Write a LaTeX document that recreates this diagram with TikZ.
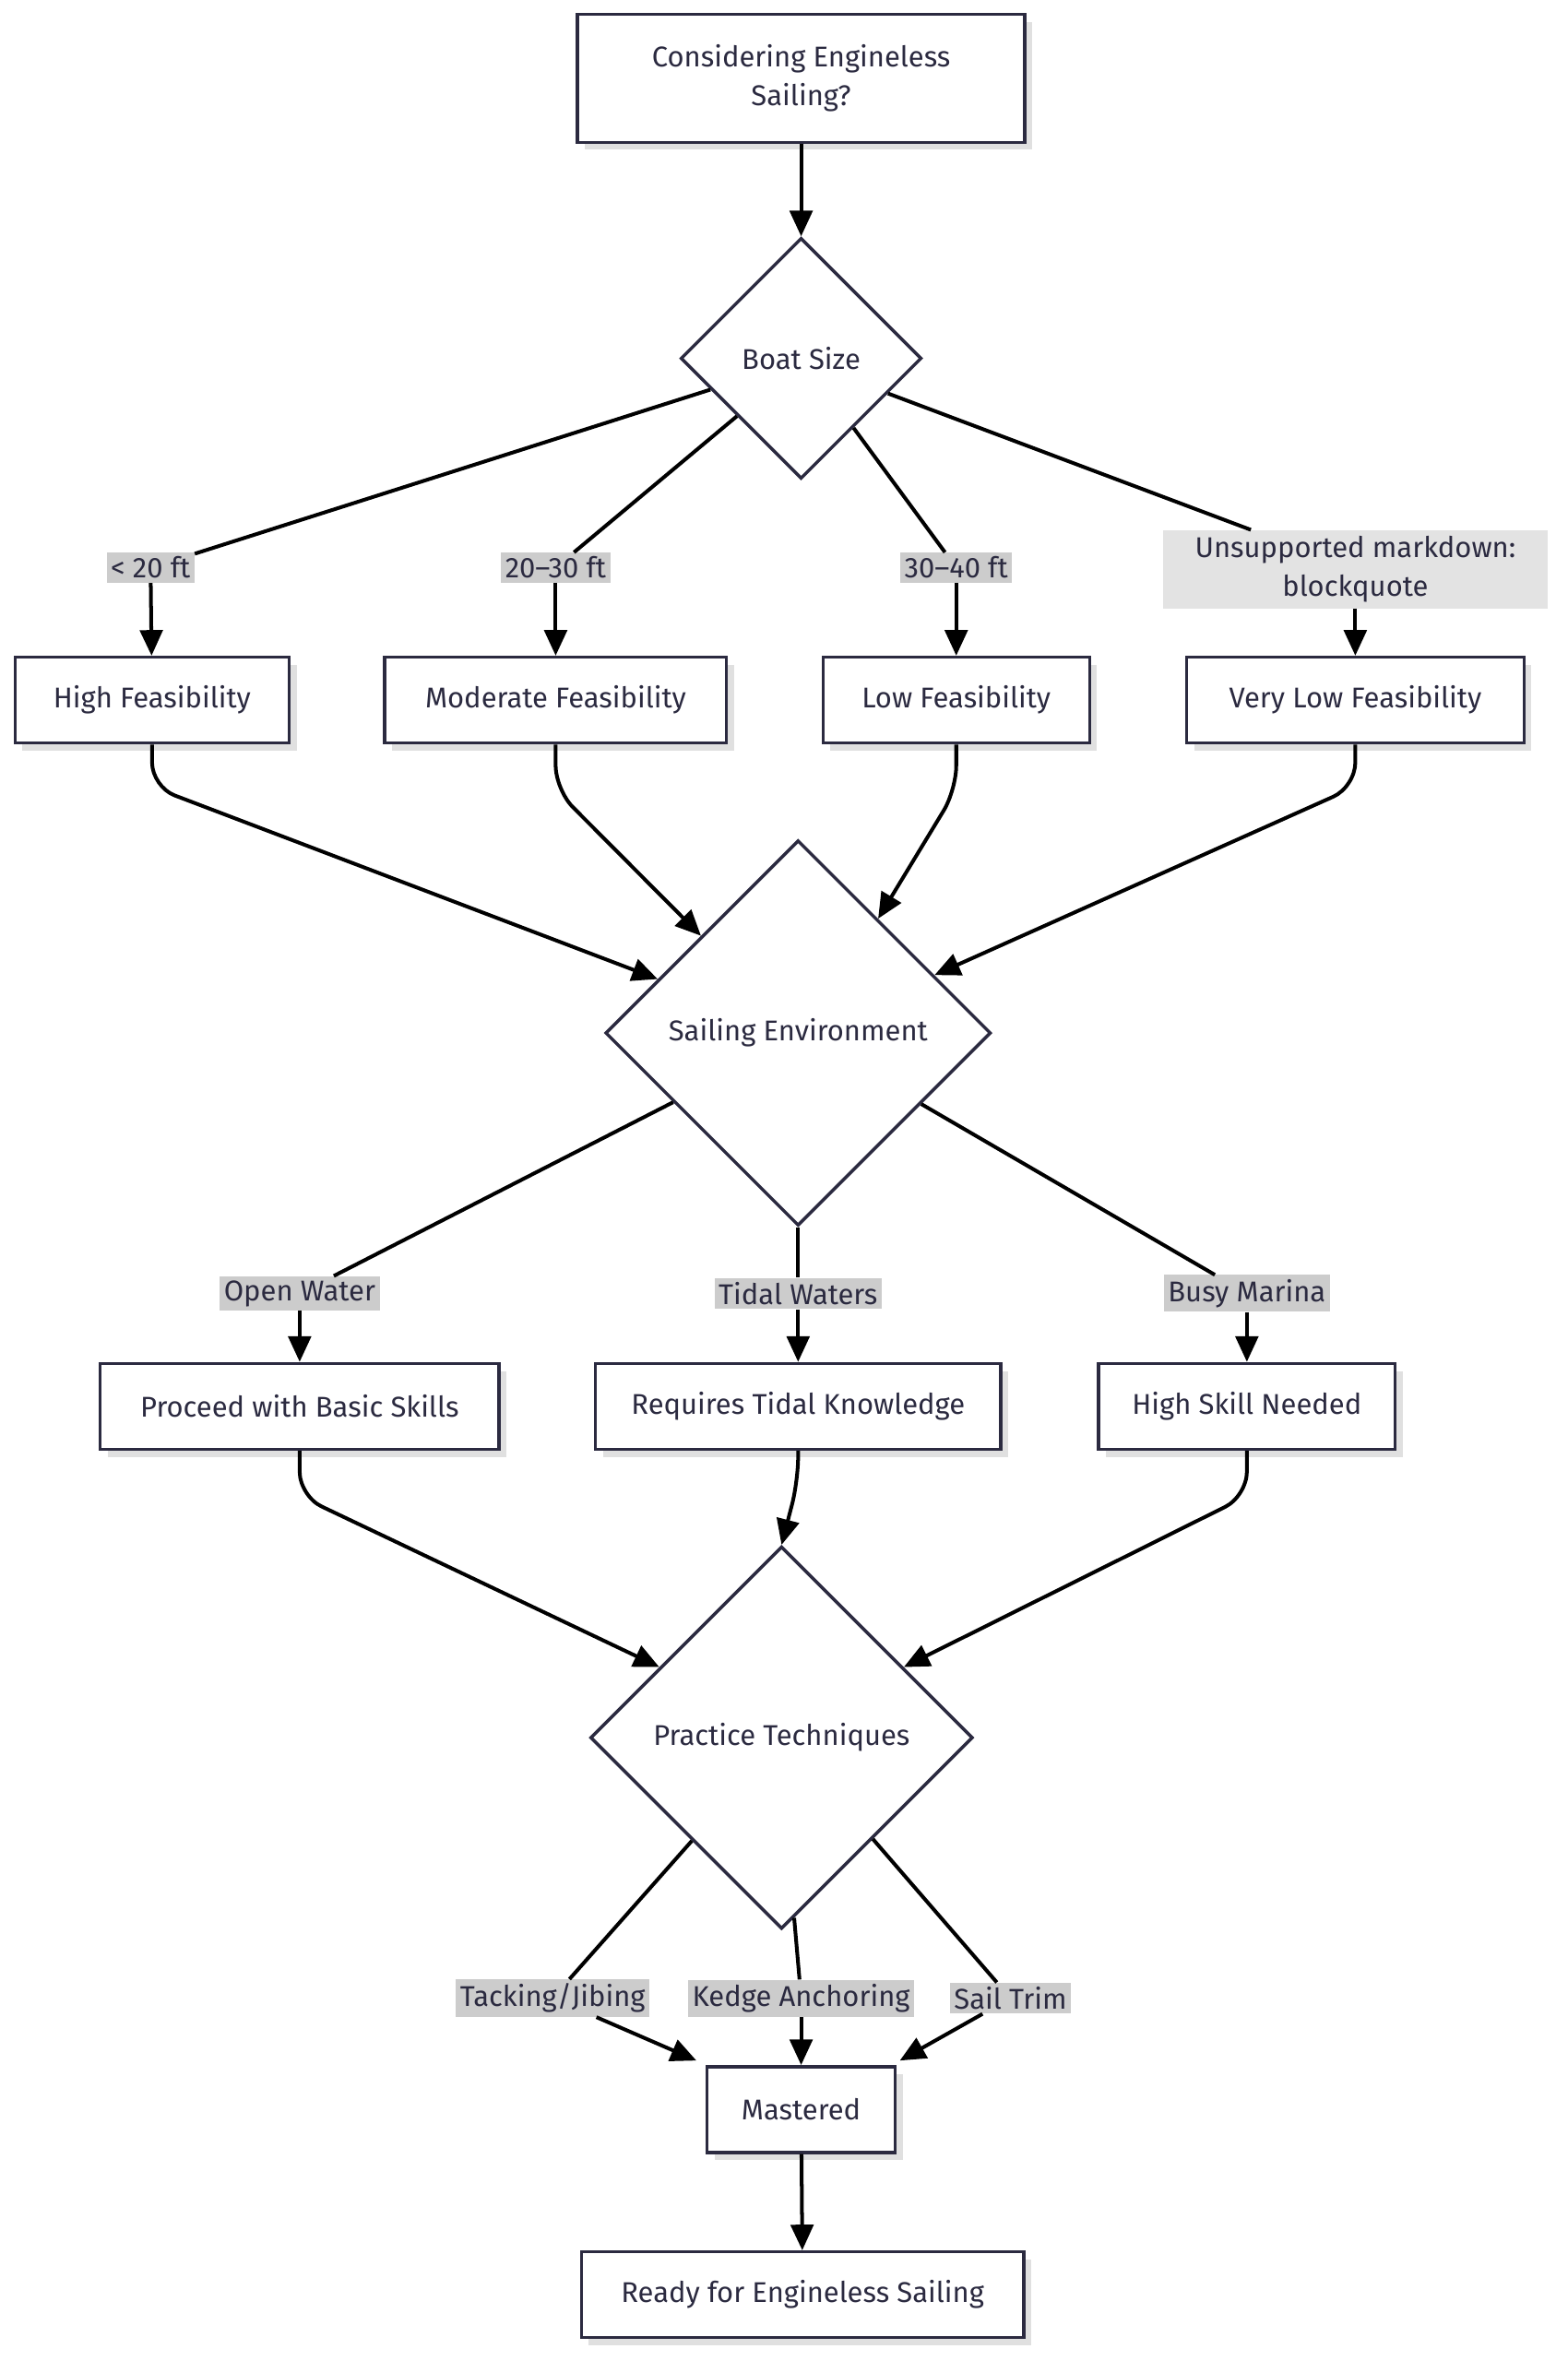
\documentclass[tikz,border=0pt]{standalone}
\usepackage{fontspec}
\setmainfont{Fira Sans}
\usetikzlibrary{shapes.geometric,arrows.meta,shadows}
\definecolor{edge}{HTML}{2B2A40}
\definecolor{lbl}{HTML}{CCCCCC}
\tikzset{
  box/.style={draw=edge, line width=3pt, fill=white, minimum height=2.85cm, inner xsep=0.9cm,
    drop shadow={shadow xshift=0.25cm, shadow yshift=-0.25cm, fill=black!12, opacity=1}},
  dec/.style={diamond, draw=edge, line width=3pt, fill=white, aspect=1, inner sep=0pt},
  tag/.style={fill=lbl, inner sep=4pt, text=edge},
  ln/.style={line width=3.5pt, black, rounded corners=0.8cm},
  arr/.style={ln, -{Triangle[length=0.85cm,width=0.75cm]}}
}
\begin{document}
\begin{tikzpicture}[x=0.05cm,y=-0.05cm, font=\fontsize{27}{37}\selectfont, text=edge]
\useasboundingbox (0,0) rectangle (1041,1568);

% nodes
\node[box, minimum width=14.85cm, minimum height=4.25cm, align=center] (start) at (532,52) {Considering Engineless\\Sailing?};
\node[dec, minimum size=8cm] (boat) at (532,238) {Boat Size};

\node[tag] (l1) at (100,377) {< 20 ft};
\node[tag] (l2) at (369,377) {20–30 ft};
\node[tag] (l3) at (635,377) {30–40 ft};
\node[tag, fill=black!11, minimum width=12.75cm, minimum height=2.6cm, align=center] (l4) at (900,378) {Unsupported markdown:\\blockquote};

\node[box, minimum width=9.1cm] (hf) at (101,465) {High Feasibility};
\node[box, minimum width=11.35cm] (mf) at (369,465) {Moderate Feasibility};
\node[box, minimum width=8.85cm] (lf) at (635,465) {Low Feasibility};
\node[box, minimum width=11.2cm] (vf) at (900,465) {Very Low Feasibility};

\node[dec, minimum size=12.8cm] (env) at (530,686) {Sailing Environment};

\node[tag] (e1) at (199,859) {Open Water};
\node[tag] (e2) at (530,859) {Tidal Waters};
\node[tag] (e3) at (828,859) {Busy Marina};

\node[box, minimum width=13.25cm] (basic) at (199,934) {Proceed with Basic Skills};
\node[box, minimum width=13.45cm] (tidal) at (530,934) {Requires Tidal Knowledge};
\node[box, minimum width=9.85cm] (skill) at (828,934) {High Skill Needed};

\node[dec, minimum size=12.7cm] (prac) at (519,1154) {Practice Techniques};

\node[tag] (p1) at (367,1327) {Tacking/Jibing};
\node[tag] (p2) at (532,1327) {Kedge Anchoring};
\node[tag] (p3) at (671,1327) {Sail Trim};

\node[box, minimum width=6.25cm] (done) at (532,1401) {Mastered};
\node[box, minimum width=14.7cm] (ready) at (533,1524) {Ready for Engineless Sailing};

% connectors
\draw[arr] (start) -- (boat.north);
\draw[ln] (boat.199) -- (l1);
\draw[ln] (boat.222) -- (l2);
\draw[ln] (boat.307) -- (l3);
\draw[ln] (boat.338) -- (l4);
\foreach \a/\b in {l1/hf,l2/mf,l3/lf,l4/vf,e1/basic,e2/tidal,e3/skill}
  \draw[arr] (\a) -- (\b);

\draw[arr] (hf.south) -- ++(0,28) -- (env.159);
\draw[arr] (mf.south) -- ++(0,30) -- (env.135);
\draw[arr] (lf.south) -- ++(0,30) -- (env.55);
\draw[arr] (vf.south) -- ++(0,28) -- (env.23);

\draw[ln] (env.209) -- (e1);
\draw[ln] (env.south) -- (e2);
\draw[ln] (env.330) -- (e3);

\draw[arr] (basic.south) -- ++(0,30) -- (prac.150);
\draw[arr] (tidal.south) -- ++(0,20) -- (prac.north);
\draw[arr] (skill.south) -- ++(0,30) -- (prac.30);

\draw[ln] (prac.229) -- (p1);
\draw[ln] (prac.274) -- (p2);
\draw[ln] (prac.312) -- (p3);
\draw[arr] (p1) -- ([xshift=-0.3cm,yshift=0.15cm]done.north west);
\draw[arr] (p2) -- (done.north);
\draw[arr] (p3) -- ([xshift=0.1cm,yshift=0.15cm]done.north east);
\draw[arr] (done) -- (ready);
\end{tikzpicture}
\end{document}
